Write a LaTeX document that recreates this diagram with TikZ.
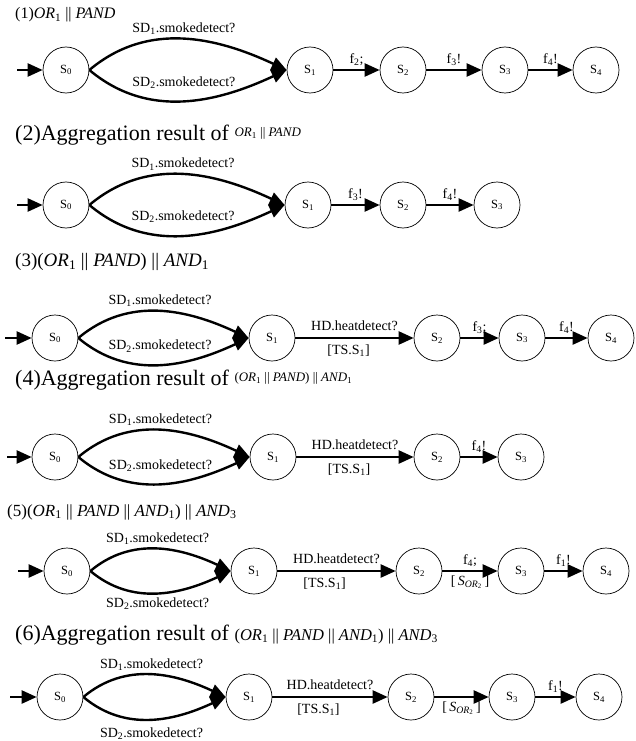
\documentclass[tikz,border=0pt]{standalone}
\usepackage{fontspec}
\setmainfont{Liberation Serif}
\usetikzlibrary{arrows.meta}

\tikzset{
  st/.style={circle, draw, line width=0.7pt, minimum size=46pt, inner sep=0pt, font=\fontsize{12.5}{13}\selectfont},
  tr/.style={line width=2.4pt, -{Triangle[length=15pt,width=13pt]}},
  lbl/.style={font=\fontsize{14}{15}\selectfont},
  ttl/.style={anchor=west, inner sep=0pt}
}
\newcommand{\sor}{[\,\textit{S}\textsubscript{\textit{OR}\textsubscript{2}}\,]}

\begin{document}
\begin{tikzpicture}[x=1pt,y=1pt]
\useasboundingbox (0,0) rectangle (635,-741);

% (1)
\node[ttl,font=\fontsize{16}{16}\selectfont] (t1) at (15,-15) {(1)\textit{OR}\textsubscript{1} || \textit{PAND}};
\node[st] (a0) at (66,-70) {S\textsubscript{0}};
\node[st] (a1) at (310,-70) {S\textsubscript{1}};
\node[st] (a2) at (403,-70) {S\textsubscript{2}};
\node[st] (a3) at (505,-70) {S\textsubscript{3}};
\node[st] (a4) at (596,-70) {S\textsubscript{4}};
\coordinate (a) at (17,-70);
\draw[tr] (a) -- (a0);
\draw[tr] (a0.east) to[out=40,in=155] node[lbl,above] {SD\textsubscript{1}.smokedetect?} (a1.west);
\draw[tr] (a0.east) to[out=-40,in=-155] node[lbl,above=8pt] {SD\textsubscript{2}.smokedetect?} (a1.west);
\draw[tr] (a1) -- node[lbl,above] {f\textsubscript{2};} (a2);
\draw[tr] (a2) -- node[lbl,above] {f\textsubscript{3}!} (a3);
\draw[tr] (a3) -- node[lbl,above] {f\textsubscript{4}!} (a4);

% (2)
\node[ttl,font=\fontsize{22}{22}\selectfont] (t2) at (15,-135) {(2)Aggregation result of \raisebox{4pt}{\fontsize{13}{13}\selectfont\textit{OR}\textsubscript{1} || \textit{PAND}}};
\node[st] (b0) at (66,-205) {S\textsubscript{0}};
\node[st] (b1) at (308,-205) {S\textsubscript{1}};
\node[st] (b2) at (403,-205) {S\textsubscript{2}};
\node[st] (b3) at (497,-205) {S\textsubscript{3}};
\coordinate (b) at (17,-205);
\draw[tr] (b) -- (b0);
\draw[tr] (b0.east) to[out=40,in=155] node[lbl,above] {SD\textsubscript{1}.smokedetect?} (b1.west);
\draw[tr] (b0.east) to[out=-40,in=-155] node[lbl,above=8pt] {SD\textsubscript{2}.smokedetect?} (b1.west);
\draw[tr] (b1) -- node[lbl,above] {f\textsubscript{3}!} (b2);
\draw[tr] (b2) -- node[lbl,above] {f\textsubscript{4}!} (b3);

% (3)
\node[ttl,font=\fontsize{19}{19}\selectfont] (t3) at (15,-262) {(3)(\textit{OR}\textsubscript{1} || \textit{PAND}) || \textit{AND}\textsubscript{1}};
\node[st] (c0) at (55,-338) {S\textsubscript{0}};
\node[st] (c1) at (272,-338) {S\textsubscript{1}};
\node[st] (c2) at (437,-338) {S\textsubscript{2}};
\node[st] (c3) at (522,-338) {S\textsubscript{3}};
\node[st] (c4) at (611,-338) {S\textsubscript{4}};
\coordinate (c) at (5,-338);
\draw[tr] (c) -- (c0);
\draw[tr] (c0.east) to[out=40,in=155] node[lbl,above] {SD\textsubscript{1}.smokedetect?} (c1.west);
\draw[tr] (c0.east) to[out=-40,in=-155] node[lbl,above=8pt] {SD\textsubscript{2}.smokedetect?} (c1.west);
\draw[tr] (c1) -- node[lbl,above=3pt] {HD.heatdetect?} node[lbl,below=2pt,pos=0.45] {[TS.S\textsubscript{1}]} (c2);
\draw[tr] (c2) -- node[lbl,above] {f\textsubscript{3};} (c3);
\draw[tr] (c3) -- node[lbl,above] {f\textsubscript{4}!} (c4);

% (4)
\node[ttl,font=\fontsize{22}{22}\selectfont] (t4) at (15,-380) {(4)Aggregation result of \raisebox{4pt}{\fontsize{13}{13}\selectfont(\textit{OR}\textsubscript{1} || \textit{PAND}) || \textit{AND}\textsubscript{1}}};
\node[st] (d0) at (55,-457) {S\textsubscript{0}};
\node[st] (d1) at (273,-457) {S\textsubscript{1}};
\node[st] (d2) at (437,-457) {S\textsubscript{2}};
\node[st] (d3) at (521,-457) {S\textsubscript{3}};
\coordinate (d) at (7,-457);
\draw[tr] (d) -- (d0);
\draw[tr] (d0.east) to[out=40,in=155] node[lbl,above] {SD\textsubscript{1}.smokedetect?} (d1.west);
\draw[tr] (d0.east) to[out=-40,in=-155] node[lbl,above=8pt] {SD\textsubscript{2}.smokedetect?} (d1.west);
\draw[tr] (d1) -- node[lbl,above=3pt] {HD.heatdetect?} node[lbl,below=2pt,pos=0.45] {[TS.S\textsubscript{1}]} (d2);
\draw[tr] (d2) -- node[lbl,above] {f\textsubscript{4}!} (d3);

% (5)
\node[ttl,font=\fontsize{17}{17}\selectfont] (t5) at (7,-512) {(5)(\textit{OR}\textsubscript{1} || \textit{PAND} || \textit{AND}\textsubscript{1}) || \textit{AND}\textsubscript{3}};
\node[st] (e0) at (67,-571) {S\textsubscript{0}};
\node[st] (e1) at (254,-571) {S\textsubscript{1}};
\node[st] (e2) at (419,-571) {S\textsubscript{2}};
\node[st] (e3) at (521,-571) {S\textsubscript{3}};
\node[st] (e4) at (606,-571) {S\textsubscript{4}};
\coordinate (e) at (18,-571);
\draw[tr] (e) -- (e0);
\draw[tr] (e0.east) to[out=40,in=155] node[lbl,above] {SD\textsubscript{1}.smokedetect?} (e1.west);
\draw[tr] (e0.east) to[out=-40,in=-155] node[lbl,below] {SD\textsubscript{2}.smokedetect?} (e1.west);
\draw[tr] (e1) -- node[lbl,above=3pt] {HD.heatdetect?} node[lbl,below=2pt,pos=0.4] {[TS.S\textsubscript{1}]} (e2);
\draw[tr] (e2) -- node[lbl,above] {f\textsubscript{4};} node[lbl,below] {\sor} (e3);
\draw[tr] (e3) -- node[lbl,above] {f\textsubscript{1}!} (e4);

% (6)
\node[ttl,font=\fontsize{22}{22}\selectfont] (t6) at (15,-635) {(6)Aggregation result of {\fontsize{16.5}{17}\selectfont(\textit{OR}\textsubscript{1} || \textit{PAND} || \textit{AND}\textsubscript{1}) || \textit{AND}\textsubscript{3}}};
\node[st] (g0) at (60,-697) {S\textsubscript{0}};
\node[st] (g1) at (249,-697) {S\textsubscript{1}};
\node[st] (g2) at (411,-697) {S\textsubscript{2}};
\node[st] (g3) at (512,-697) {S\textsubscript{3}};
\node[st] (g4) at (599,-697) {S\textsubscript{4}};
\coordinate (g) at (10,-697);
\draw[tr] (g) -- (g0);
\draw[tr] (g0.east) to[out=40,in=155] node[lbl,above] {SD\textsubscript{1}.smokedetect?} (g1.west);
\draw[tr] (g0.east) to[out=-40,in=-155] node[lbl,below=4pt] {SD\textsubscript{2}.smokedetect?} (g1.west);
\draw[tr] (g1) -- node[lbl,above=3pt] {HD.heatdetect?} node[lbl,below=2pt,pos=0.4] {[TS.S\textsubscript{1}]} (g2);
\draw[tr] (g2) -- node[lbl,below] {\sor} (g3);
\draw[tr] (g3) -- node[lbl,above] {f\textsubscript{1}!} (g4);
\end{tikzpicture}
\end{document}
